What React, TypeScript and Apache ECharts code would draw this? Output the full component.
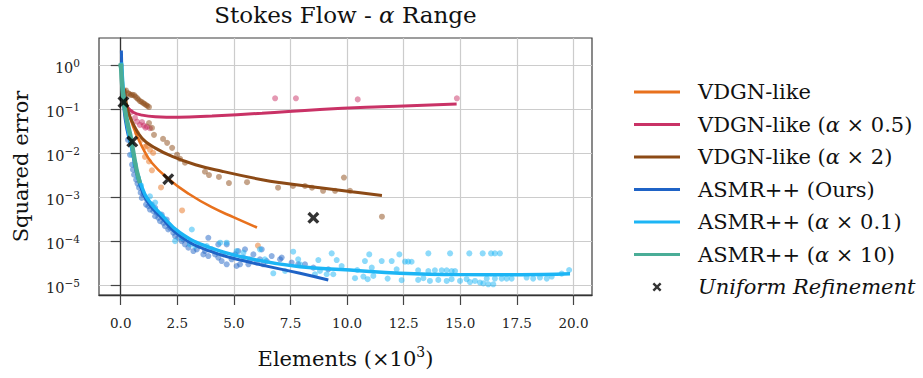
import React, { useEffect, useRef } from "react";
import * as echarts from "echarts";

const SERIF = "'DejaVu Serif', serif";

// axis ticks
const xTickValues = [0, 2.5, 5, 7.5, 10, 12.5, 15, 17.5, 20];
const yTickExponents = [-5, -4, -3, -2, -1, 0];

const seriesNames = [
  "VDGN-like",
  "VDGN-like (α × 0.5)",
  "VDGN-like (α × 2)",
  "ASMR++ (Ours)",
  "ASMR++ (α × 0.1)",
  "ASMR++ (α × 10)",
];
const seriesColors = ["#E8711D", "#C93266", "#8C4A16", "#1F63C6", "#1CB5F5", "#4AAD97"];
const lineWidths = [2.6, 3, 3, 3, 3.4, 4.4];

// fitted trend curves: [elements (×10³), squared error]
const vdgnCurve = [
  [0.05, 0.7], [0.1, 0.3], [0.25, 0.12], [0.42, 0.063], [0.64, 0.031], [0.94, 0.0142],
  [1.38, 0.006], [2.15, 0.0025], [3.0, 0.0012], [4.0, 0.0006], [5.0, 0.000347], [6.02, 0.000204],
];
const vdgnHalfCurve = [
  [0.12, 0.16], [0.3, 0.112], [0.55, 0.086], [0.94, 0.074], [1.53, 0.068], [2.56, 0.066],
  [4.03, 0.071], [6.24, 0.082], [8.8, 0.1], [11.5, 0.115], [14.84, 0.132],
];
const vdgnDoubleCurve = [
  [0.18, 0.3], [0.28, 0.11], [0.5, 0.053], [0.94, 0.022], [1.53, 0.0131], [2.27, 0.0085],
  [3.3, 0.0055], [4.47, 0.0039], [6.24, 0.0025], [7.17, 0.0021], [8.8, 0.00164], [10.2, 0.00133],
  [11.54, 0.0011],
];
const asmrCurve = [
  [0.03, 2.2], [0.06, 0.6], [0.146, 0.098], [0.28, 0.034], [0.49, 0.012], [0.68, 0.0038],
  [0.98, 0.00126], [1.29, 0.00065], [1.74, 0.00037], [2.62, 0.00013], [3.94, 5.9e-5], [5.71, 3.3e-5],
  [7.92, 1.85e-5], [9.17, 1.3e-5],
];
const asmrTenthCurve = [
  [0.035, 1.17], [0.1, 0.36], [0.19, 0.097], [0.32, 0.034], [0.5, 0.012], [0.72, 0.0038],
  [1.07, 0.00115], [1.38, 0.00068], [1.74, 0.00043], [2.62, 0.000155], [3.94, 7.1e-5], [5.71, 4.0e-5],
  [7.92, 2.6e-5], [10.13, 2.2e-5], [12.34, 1.85e-5], [14.99, 1.73e-5], [17.64, 1.72e-5],
  [19.85, 1.8e-5],
];
const asmrTenfoldCurve = [
  [0.005, 1.12], [0.08, 0.275], [0.19, 0.097], [0.32, 0.044], [0.45, 0.0225], [0.54, 0.012],
  [0.7, 0.0042], [0.85, 0.0021],
];

// individual runs
const vdgnRuns = [
  [0.72, 0.029], [0.9, 0.0202], [1.07, 0.014], [1.16, 0.0148], [1.29, 0.012], [1.43, 0.0102],
  [1.07, 0.0083], [1.25, 0.0065], [1.38, 0.0041], [1.78, 0.00167], [2.71, 0.0005], [6.06, 7.9e-5],
];
const vdgnHalfRuns = [
  [0.45, 0.087], [0.63, 0.064], [0.72, 0.0525], [0.85, 0.0444], [0.94, 0.0514], [1.02, 0.0427],
  [1.09, 0.0385], [1.16, 0.0405], [1.29, 0.0372], [6.82, 0.179], [7.74, 0.179], [10.47, 0.169],
  [14.85, 0.179],
];
const vdgnDoubleRuns = [
  [0.23, 0.27], [0.32, 0.235], [0.38, 0.225], [0.45, 0.212], [0.52, 0.215], [0.59, 0.212],
  [0.65, 0.195], [0.72, 0.181], [0.78, 0.168], [0.85, 0.155], [0.92, 0.148], [0.99, 0.14],
  [1.05, 0.133], [1.12, 0.126], [1.18, 0.12], [1.25, 0.113], [1.25, 0.049], [1.38, 0.0379],
  [1.47, 0.0263], [1.87, 0.0213], [2.05, 0.0173], [2.27, 0.0133], [2.49, 0.0093], [2.62, 0.0075],
  [2.84, 0.0061], [3.72, 0.0038], [3.9, 0.0032], [4.34, 0.0029], [4.78, 0.0021], [5.58, 0.0022],
  [6.95, 0.00165], [7.61, 0.0018], [8.14, 0.0018], [8.45, 0.00165], [8.94, 0.0014], [9.47, 0.0014],
  [9.86, 0.0028], [10.13, 0.0014], [11.54, 0.00036],
];
const asmrRuns = [
  [0.32, 0.0202], [0.41, 0.00925], [0.5, 0.0055], [0.54, 0.00423], [0.59, 0.00325], [0.68, 0.0025],
  [0.74, 0.00204], [0.81, 0.00165], [0.88, 0.00127], [1.0, 0.00115], [0.93, 0.00096], [1.15, 0.000883],
  [1.12, 0.000679], [1.22, 0.000622], [1.37, 0.000679], [1.29, 0.000524], [1.44, 0.000479],
  [1.52, 0.000571], [1.59, 0.000441], [1.52, 0.000369], [1.66, 0.00034], [1.74, 0.000284],
  [1.81, 0.000403], [1.88, 0.000261], [1.96, 0.000219], [2.03, 0.00031], [2.1, 0.000184],
  [2.18, 0.000201], [2.32, 0.000155], [2.4, 0.00013], [2.54, 0.000119], [2.69, 0.0001],
  [2.84, 8.41e-5], [2.77, 0.000109], [2.99, 7.08e-5], [3.06, 9.2e-5], [3.21, 5.93e-5],
  [3.36, 6.49e-5], [3.5, 7.71e-5], [3.65, 4.99e-5], [3.72, 5.93e-5], [3.87, 4.57e-5],
  [3.87, 0.000119], [4.02, 6.49e-5], [4.17, 4.99e-5], [4.31, 8.41e-5], [4.31, 4.21e-5],
  [4.46, 3.52e-5], [4.53, 4.99e-5], [4.68, 8.41e-5], [4.68, 2.96e-5], [4.9, 3.85e-5],
  [5.05, 4.99e-5], [5.12, 2.71e-5], [5.27, 2.96e-5], [5.19, 5.93e-5], [5.42, 4.21e-5],
  [5.49, 6.49e-5], [5.64, 2.96e-5], [5.71, 3.85e-5], [5.86, 4.99e-5], [6.01, 3.24e-5],
  [6.15, 3.85e-5], [6.23, 6.49e-5], [6.3, 2.96e-5], [6.45, 3.52e-5], [6.67, 4.57e-5],
  [7.04, 3.85e-5], [7.11, 4.21e-5], [7.55, 3.24e-5], [7.84, 2.96e-5], [8.14, 2.96e-5],
  [8.51, 2.49e-5], [9.17, 2.28e-5],
];
const asmrTenthRuns = [
  [0.5, 0.00925], [0.63, 0.0055], [0.76, 0.00278], [0.9, 0.00183], [1.29, 0.00105], [1.52, 0.000755],
  [2.4, 0.0001], [2.69, 0.000119], [3.06, 8.41e-5], [3.14, 0.000184], [3.28, 7.71e-5], [3.8, 7.71e-5],
  [4.39, 9.2e-5], [4.68, 9.2e-5], [5.12, 5.93e-5], [5.42, 5.46e-5], [6.15, 6.49e-5], [6.37, 3.85e-5],
  [6.74, 1.85e-5], [7.26, 2.09e-5], [7.62, 5.75e-5], [7.84, 3.85e-5], [7.92, 2.96e-5], [8.58, 1.76e-5],
  [8.73, 3.7e-5], [8.8, 2.09e-5], [9.1, 1.76e-5], [9.32, 5.26e-5], [9.39, 1.76e-5], [9.54, 3.7e-5],
  [9.76, 2.71e-5], [10.35, 1.43e-5], [10.45, 2.2e-5], [10.72, 1.56e-5], [10.79, 3.52e-5],
  [10.91, 1.36e-5], [10.98, 4.99e-5], [11.09, 2.49e-5], [11.16, 1.61e-5], [11.53, 3.52e-5],
  [11.79, 1.4e-5], [11.97, 3.52e-5], [12.19, 2.28e-5], [12.31, 4.99e-5], [12.41, 1.29e-5],
  [12.56, 3.41e-5], [12.7, 3.41e-5], [12.85, 3.39e-5], [13.14, 2.17e-5], [13.14, 1.31e-5],
  [13.37, 1.43e-5], [13.59, 5.26e-5], [13.59, 2.09e-5], [13.66, 1.24e-5], [13.88, 2.17e-5],
  [14.03, 1.31e-5], [14.18, 2.17e-5], [14.4, 1.24e-5], [14.4, 2.17e-5], [14.55, 5.26e-5],
  [14.62, 2.09e-5], [14.62, 1.36e-5], [14.77, 2.09e-5], [14.99, 1.24e-5], [15.28, 1.36e-5],
  [15.4, 5.26e-5], [15.43, 1.17e-5], [15.65, 1.24e-5], [15.87, 1.14e-5], [15.99, 5.26e-5],
  [16.02, 1.09e-5], [16.17, 1.4e-5], [16.24, 1.04e-5], [16.36, 5.26e-5], [16.46, 1.04e-5],
  [16.53, 5.26e-5], [16.53, 1.4e-5], [16.75, 5.26e-5], [16.83, 1.4e-5], [17.05, 1.4e-5],
  [17.27, 1.4e-5], [17.93, 1.48e-5], [18.22, 1.4e-5], [18.52, 1.48e-5], [18.82, 1.4e-5],
  [19.04, 1.56e-5], [19.48, 1.82e-5], [19.81, 2.2e-5],
];
const asmrTenfoldRuns = [[0.005, 1.0]];

const uniformRefinement = [[0.12, 0.147], [0.51, 0.0185], [2.1, 0.00257], [8.51, 0.000339]];

const curves = [vdgnCurve, vdgnHalfCurve, vdgnDoubleCurve, asmrCurve, asmrTenthCurve, asmrTenfoldCurve];
const runs = [vdgnRuns, vdgnHalfRuns, vdgnDoubleRuns, asmrRuns, asmrTenthRuns, asmrTenfoldRuns];

// filled cross marker
const CROSS =
  "path://M0.2,0L0.5,0.3L0.8,0L1,0.2L0.7,0.5L1,0.8L0.8,1L0.5,0.7L0.2,1L0,0.8L0.3,0.5L0,0.2Z";
// same cross inside a padded 14×14 box, so the legend draws it smaller than the row
const CROSS_LEGEND =
  "path://M0,0M14,14M4.2,2.5L7,5.3L9.8,2.5L11.5,4.2L8.7,7L11.5,9.8L9.8,11.5L7,8.7L4.2,11.5L2.5,9.8L5.3,7L2.5,4.2Z";
// plain stroke for the legend's line entries
const LINE_LEGEND = "path://M0,0H46V3H0Z";

const toLog = (pts: number[][]) => pts.map(([x, v]) => [x, Math.log10(v)]);
const supExp = (v: number) => (v < 0 ? "−" + Math.abs(v) : String(v));

function buildOption() {
  const series: any[] = [];
  runs.forEach((pts, i) => {
    series.push({
      type: "scatter",
      name: seriesNames[i] + " runs",
      data: toLog(pts),
      symbol: "circle",
      symbolSize: 6,
      itemStyle: { color: seriesColors[i], opacity: 0.5 },
      z: 2,
      silent: true,
    });
  });
  curves.forEach((pts, i) => {
    series.push({
      type: "line",
      name: seriesNames[i],
      data: toLog(pts),
      symbol: "none",
      showSymbol: false,
      smooth: 0.45,
      lineStyle: { color: seriesColors[i], width: lineWidths[i] },
      itemStyle: { color: seriesColors[i] },
      z: 3,
      silent: true,
    });
  });
  series.push({
    type: "scatter",
    name: "Uniform Refinement",
    data: toLog(uniformRefinement),
    symbol: CROSS,
    symbolSize: 12,
    itemStyle: { color: "#000" },
    z: 5,
    silent: true,
  });

  return {
    animation: false,
    textStyle: { fontFamily: SERIF },
    grid: {
      left: 99,
      top: 38,
      width: 493,
      height: 258,
      show: true,
      borderColor: "#3c3c3c",
      borderWidth: 1.2,
      backgroundColor: "transparent",
    },
    graphic: [
      {
        type: "text",
        x: 345.5,
        y: 15,
        style: {
          text: "Stokes Flow - {i|α} Range",
          fontFamily: SERIF,
          fontSize: 23,
          fill: "#111",
          align: "center",
          verticalAlign: "middle",
          rich: {
            i: { fontFamily: SERIF, fontSize: 23, fontStyle: "italic", fill: "#111" },
          },
        },
      },
    ],
    xAxis: {
      type: "value",
      min: -0.96,
      max: 20.82,
      name: "Elements (×10{s|3})",
      nameLocation: "middle",
      nameGap: 50,
      nameTextStyle: {
        fontFamily: SERIF,
        fontSize: 21,
        color: "#111",
        lineHeight: 28,
        rich: { s: { fontFamily: SERIF, fontSize: 14, lineHeight: 13, verticalAlign: "top", color: "#111" } },
      },
      axisLine: { show: true, onZero: false, lineStyle: { color: "#333", width: 1.3 } },
      axisTick: { show: true, customValues: xTickValues, length: 10, lineStyle: { color: "#444", width: 1.2 } },
      axisLabel: {
        customValues: xTickValues,
        formatter: (v: number) => v.toFixed(1),
        margin: 21,
        fontFamily: SERIF,
        fontSize: 13.5,
        color: "#222",
      },
      splitLine: { show: true, lineStyle: { color: "#cccccc", width: 1.2 } },
    },
    yAxis: {
      type: "value",
      min: -5.227,
      max: 0.626,
      name: "Squared error",
      nameLocation: "middle",
      nameGap: 68,
      nameTextStyle: { fontFamily: SERIF, fontSize: 21, color: "#111" },
      axisLine: { show: true, lineStyle: { color: "#333", width: 1.3 } },
      axisTick: { show: true, customValues: yTickExponents, length: 10, lineStyle: { color: "#444", width: 1.2 } },
      axisLabel: {
        customValues: yTickExponents,
        formatter: (v: number) => `{b|10}{s|${supExp(v)}}`,
        margin: 19,
        padding: [5, 0, 0, 0],
        color: "#222",
        rich: {
          b: { fontFamily: SERIF, fontSize: 14.5, lineHeight: 20, color: "#222" },
          s: { fontFamily: SERIF, fontSize: 10.5, lineHeight: 10, verticalAlign: "top", color: "#222" },
        },
      },
      splitLine: { show: true, lineStyle: { color: "#cccccc", width: 1.2 } },
    },
    legend: {
      orient: "vertical",
      left: 634,
      top: 81,
      padding: 0,
      itemWidth: 46,
      itemHeight: 14,
      itemGap: 10.5,
      selectedMode: false,
      data: [
        ...seriesNames.map((n) => ({ name: n, icon: LINE_LEGEND })),
        { name: "Uniform Refinement", icon: CROSS_LEGEND, textStyle: { fontStyle: "italic" } },
      ],
      formatter: (name: string) => name.replace("α", "{i|α}"),
      textStyle: {
        fontFamily: SERIF,
        fontSize: 21,
        lineHeight: 22,
        color: "#111",
        padding: [0, 0, 0, 13],
        rich: {
          i: { fontFamily: SERIF, fontSize: 21, lineHeight: 22, fontStyle: "italic", color: "#111" },
        },
      },
    },
    series,
  };
}

export default function App() {
  const ref = useRef<HTMLDivElement>(null);
  useEffect(() => {
    document.body.style.margin = "0";
    const chart = echarts.init(ref.current!, null, { renderer: "svg" });
    chart.setOption(buildOption() as any);
    return () => chart.dispose();
  }, []);
  return <div ref={ref} style={{ width: 923, height: 378 }} />;
}
